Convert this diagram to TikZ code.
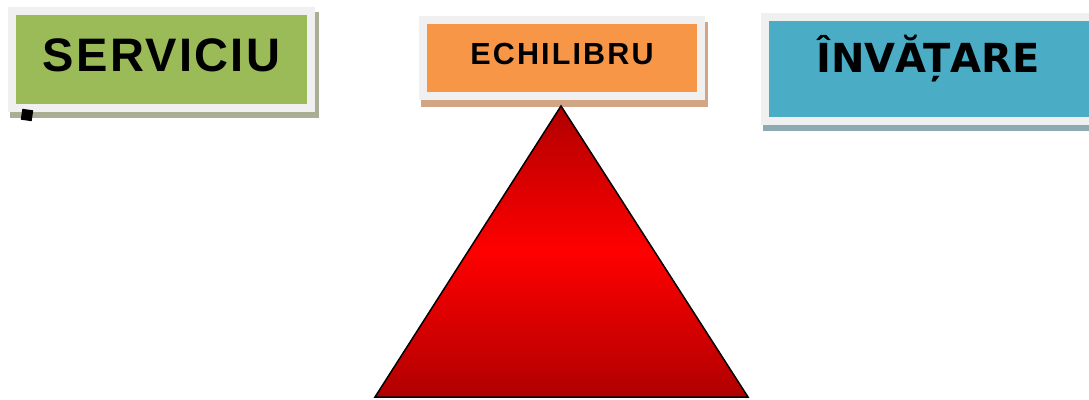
\documentclass[tikz,border=0pt]{standalone}
\usepackage{fontspec}
\setmainfont{Liberation Sans}
\newfontfamily\wide{DejaVu Sans}
\definecolor{framegray}{HTML}{F0F0F0}
\definecolor{sgreen}{HTML}{9BBB59}
\definecolor{sorange}{HTML}{F79646}
\definecolor{sblue}{HTML}{4BACC6}
\definecolor{shgreen}{HTML}{A9AE94}
\definecolor{shorange}{HTML}{D2A584}
\definecolor{shblue}{HTML}{8DA9B2}
\definecolor{darkred}{HTML}{B00000}
\tikzset{
  tab/.style={draw=framegray,line width=8pt,inner sep=0pt},
}

\begin{document}
\begin{tikzpicture}[x=1pt,y=1pt]
     \useasboundingbox (0,0) rectangle (1089,399);
     \clip (0,0) rectangle (1089,399);
     % shadows
     \fill[shgreen]  (10,281) rectangle (319,387);
     \fill[shorange] (421,292) rectangle (708,377);
     \fill[shblue]   (763,268) rectangle (1100,380);
     % boxes
     \node[tab,fill=sgreen,minimum width=299,minimum height=97,
           text height=35pt,text depth=10pt,
           font=\fontsize{47}{47}\selectfont\bfseries\addfontfeature{LetterSpace=5}]
        (serviciu) at (161.5,339.5) {SERVICIU};
     \node[tab,fill=sorange,minimum width=278,minimum height=76,
           text height=24pt,text depth=10pt,
           font=\fontsize{30.5}{30.5}\selectfont\bfseries\addfontfeature{LetterSpace=7}]
        (echilibru) at (562,341) {ECHILIBRU};
     \node[tab,fill=sblue,minimum width=331,minimum height=104,
           text height=30pt,text depth=22pt,
           font=\wide\fontsize{40}{40}\selectfont\bfseries]
        (invatare) at (930.5,330) {\hspace*{-5pt}ÎNVĂȚARE};
     \node[fill=black,minimum size=11,inner sep=0pt,rotate=-8] (bullet) at (27,284) {};
     % triangle
     \draw[line width=1.5pt,line join=miter,top color=darkred,bottom color=darkred,middle color=red]
        (375,2) -- (561,293) -- (748,2) -- cycle;
    \end{tikzpicture}
\end{document}
